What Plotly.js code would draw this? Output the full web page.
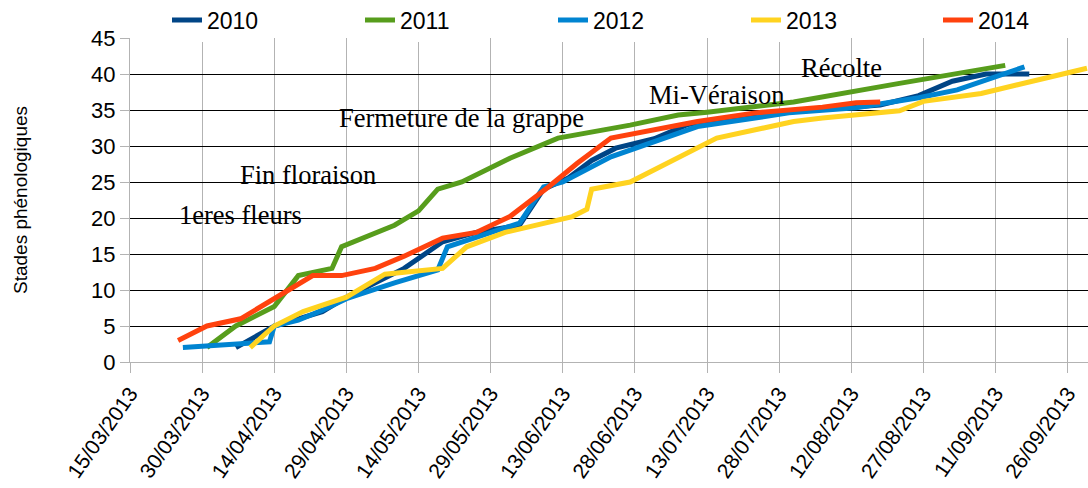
<!DOCTYPE html>
<html>
<head>
<meta charset="utf-8">
<script src="https://cdn.plot.ly/plotly-3.0.1.min.js"></script>
<style>
  html, body { margin: 0; padding: 0; background: #fff; }
  #myPlot { width: 1088px; height: 488px; }
</style>
</head>
<body>
<div id="myPlot"></div>
<script>
// Data (all years projected onto 2013)
const dates2010 = ['2013-04-06', '2013-04-14', '2013-04-19', '2013-04-24', '2013-04-29', '2013-05-11', '2013-05-19', '2013-05-26', '2013-06-04', '2013-06-09', '2013-06-14', '2013-06-19', '2013-06-24', '2013-07-02', '2013-07-09', '2013-07-28', '2013-08-18', '2013-08-26', '2013-09-02', '2013-09-09', '2013-09-18'];
const vals2010 = [2, 5, 6, 7, 9, 13, 16.7, 18, 19, 24, 25.5, 28, 29.7, 31, 33, 34.6, 35.7, 37, 39, 40, 40];

const dates2011 = ['2013-03-31', '2013-04-06', '2013-04-14', '2013-04-19', '2013-04-26', '2013-04-28', '2013-05-09', '2013-05-14', '2013-05-18', '2013-05-23', '2013-06-02', '2013-06-12', '2013-06-27', '2013-07-07', '2013-07-13', '2013-07-31', '2013-08-22', '2013-09-13'];
const vals2011 = [2, 5, 7.7, 12, 13, 16, 19, 21, 24, 25, 28.3, 31.1, 32.9, 34.3, 34.7, 36.1, 38.7, 41.2];

const dates2012 = ['2013-03-26', '2013-04-08', '2013-04-13', '2013-04-14', '2013-04-19', '2013-04-24', '2013-04-29', '2013-05-09', '2013-05-18', '2013-05-20', '2013-05-29', '2013-06-04', '2013-06-09', '2013-06-13', '2013-06-23', '2013-07-11', '2013-07-30', '2013-08-13', '2013-08-26', '2013-09-03', '2013-09-17'];
const vals2012 = [2, 2.6, 2.8, 5, 5.8, 7.2, 8.8, 11, 12.8, 16, 18, 19.3, 24.3, 25, 28.5, 32.7, 34.6, 35.3, 36.7, 37.8, 41];

const dates2013 = ['2013-04-09', '2013-04-14', '2013-04-20', '2013-04-29', '2013-05-07', '2013-05-19', '2013-05-24', '2013-06-01', '2013-06-15', '2013-06-18', '2013-06-19', '2013-06-27', '2013-07-15', '2013-07-31', '2013-08-06', '2013-08-22', '2013-08-27', '2013-09-08', '2013-09-30'];
const vals2013 = [2, 5, 7, 9, 12.2, 13, 16, 18, 20.2, 21.2, 24, 25, 31.1, 33.4, 33.9, 34.9, 36.2, 37.3, 40.8];

const dates2014 = ['2013-03-25', '2013-03-31', '2013-04-07', '2013-04-22', '2013-04-28', '2013-05-05', '2013-05-11', '2013-05-19', '2013-05-26', '2013-06-02', '2013-06-10', '2013-06-16', '2013-06-23', '2013-07-11', '2013-07-23', '2013-07-30', '2013-08-06', '2013-08-13', '2013-08-18'];
const vals2014 = [3, 5, 6, 12, 12, 13, 14.7, 17.2, 18, 20.2, 24.3, 27.6, 31.1, 33.4, 34.6, 35, 35.4, 36, 36.1];

// Stage labels
const stageText = ['1eres fleurs', 'Fin floraison', 'Fermeture de la grappe', 'Mi-Véraison', 'Récolte'];
const stageDates = ['2013-04-07', '2013-04-21', '2013-05-23', '2013-07-15', '2013-08-10'];
const stageVals = [20.4, 26, 33.9, 37.1, 40.8];

const years = ['2010', '2011', '2012', '2013', '2014'];
const colors = ['#004586', '#579d1c', '#0084d1', '#ffd320', '#ff420e'];
const allDates = [dates2010, dates2011, dates2012, dates2013, dates2014];
const allVals = [vals2010, vals2011, vals2012, vals2013, vals2014];

// one legend per year so each entry sits where the reference has it
const legendIds = ['legend', 'legend2', 'legend3', 'legend4', 'legend5'];
const legendX = [167, 360, 553, 746, 938];

const data = years.map((yr, i) => ({
    x: allDates[i],
    y: allVals[i],
    name: yr,
    mode: 'lines',
    type: 'scatter',
    legend: legendIds[i],
    line: {color: colors[i], width: 5},
}));

const annotations = stageText.map((t, i) => ({
    x: stageDates[i],
    y: stageVals[i],
    text: t,
    showarrow: false,
    font: {family: 'Liberation Serif', size: 26.5, color: '#000'},
}));

const layout = {
    width: 1088,
    height: 488,
    margin: {l: 130, r: 0, t: 38, b: 126, autoexpand: false},
    paper_bgcolor: '#fff',
    plot_bgcolor: '#fff',
    font: {family: 'Liberation Sans', color: '#000'},
    showlegend: true,
    xaxis: {
        type: 'date',
        range: ['2013-03-15', '2013-09-30 05:00'],
        tick0: '2013-03-15',
        dtick: 15 * 86400000,
        tickformat: '%d/%m/%Y',
        tickangle: -55,
        tickfont: {size: 21, color: '#000'},
        ticks: 'outside',
        ticklen: 10,
        tickcolor: '#b3b3b3',
        showgrid: true,
        gridcolor: '#b3b3b3',
        showline: true,
        linecolor: '#b3b3b3',
        zeroline: false,
        automargin: false,
    },
    yaxis: {
        title: {text: 'Stades phénologiques', font: {size: 19, color: '#000'}, standoff: 58},
        range: [0, 45],
        dtick: 5,
        tickfont: {size: 22, color: '#000'},
        ticks: 'outside',
        ticklen: 9,
        tickcolor: '#b3b3b3',
        showgrid: true,
        gridcolor: '#000',
        zeroline: true,
        zerolinecolor: '#b3b3b3',
        showline: true,
        linecolor: '#b3b3b3',
        automargin: false,
    },
    annotations: annotations,
};

legendIds.forEach((id, i) => {
    layout[id] = {
        orientation: 'h',
        xref: 'container', yref: 'container',
        x: legendX[i] / 1088, y: 1 - 20 / 488,
        xanchor: 'left', yanchor: 'middle',
        font: {family: 'Liberation Sans', size: 23, color: '#000'},
    };
});

Plotly.newPlot('myPlot', data, layout, {displayModeBar: false});
</script>
</body>
</html>
